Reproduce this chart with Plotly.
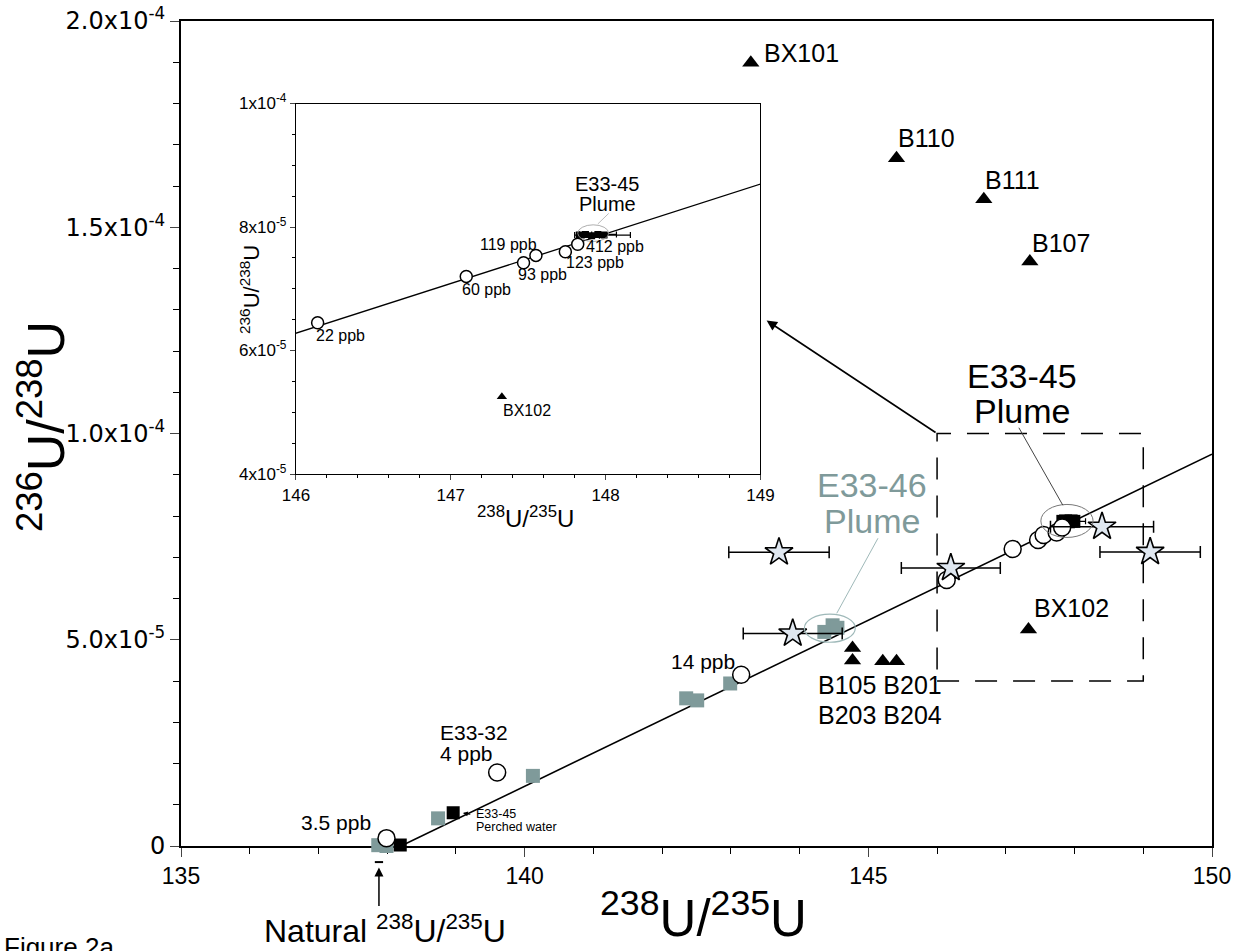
import plotly.graph_objects as go

# ---------------- data ----------------
natural_ratio = 137.88

mix_x = [138.2, 150.0]
mix_y = [0.0, 9.5e-5]

circ_x = [137.99, 139.60, 143.15, 146.14, 147.10, 147.47, 147.55, 147.74, 147.82]
circ_y = [1.9e-6, 1.78e-5, 4.15e-5, 6.45e-5, 7.20e-5, 7.42e-5, 7.54e-5, 7.60e-5, 7.72e-5]

gray_x = [137.87, 137.99, 138.74, 140.12, 142.35, 142.51, 142.99, 144.36, 144.48, 144.55]
gray_y = [2e-7, 0.0, 6.7e-6, 1.70e-5, 3.58e-5, 3.53e-5, 3.94e-5, 5.19e-5, 5.35e-5, 5.29e-5]
gray_err = [0, 0, 0, 0, 0, 0, 0, 0, 0, 0.06]

black_x = [138.19, 138.96, 147.83, 147.87, 147.91, 147.95, 147.99]
black_y = [2.4e-7, 8.06e-6, 7.87e-5, 7.88e-5, 7.86e-5, 7.88e-5, 7.87e-5]
black_err = [0, 0, 0.03, 0.04, 0.05, 0.12, 0.17]

tri_x = [143.29, 145.41, 146.68, 147.35, 147.33, 144.77, 144.77, 145.21, 145.41]
tri_y = [1.899e-4, 1.667e-4, 1.568e-4, 1.417e-4, 5.25e-5, 4.80e-5, 4.50e-5, 4.48e-5, 4.48e-5]

star_x = [143.70, 143.90, 146.20, 148.40, 149.10]
star_y = [7.12e-5, 5.15e-5, 6.74e-5, 7.74e-5, 7.13e-5]
star_err = [0.73, 0.72, 0.72, 0.75, 0.73]

main_xticks = [135, 140, 145, 150]
main_yticks = [0, 5e-5, 1e-4, 1.5e-4, 2e-4]
main_yticktext = ["0", "5.0x10<sup>-5</sup>", "1.0x10<sup>-4</sup>",
                  "1.5x10<sup>-4</sup>", "2.0x10<sup>-4</sup>"]

inset_xrange = [146, 149]
inset_yrange = [4e-5, 1e-4]
inset_xticks = [146, 147, 148, 149]
inset_yticks = [4e-5, 6e-5, 8e-5, 1e-4]
inset_yticktext = ["4x10<sup>-5</sup>", "6x10<sup>-5</sup>",
                   "8x10<sup>-5</sup>", "1x10<sup>-4</sup>"]

inset_labels = ["22 ppb", "60 ppb", "93 ppb", "119 ppb", "123 ppb", "412 ppb", "BX102"]
inset_label_x = [146.29, 147.23, 147.59, 147.37, 147.93, 148.06, 147.49]
inset_label_y = [6.24e-5, 6.99e-5, 7.23e-5, 7.72e-5, 7.42e-5, 7.68e-5, 5.03e-5]

# ---------------- styling ----------------
FONT = "Liberation Sans, Arial, sans-serif"
GRAY = "#7f9a9a"
STAR_FILL = "#dfe7f0"

fig = go.Figure()

def add_set(xa, ya, circ_size, sq_size, tri_size, star_size, lw):
    fig.add_trace(go.Scatter(x=mix_x, y=mix_y, mode="lines", xaxis=xa, yaxis=ya,
                             line=dict(color="black", width=lw), cliponaxis=True,
                             showlegend=False, hoverinfo="skip"))
    fig.add_trace(go.Scatter(x=gray_x, y=gray_y, mode="markers", xaxis=xa, yaxis=ya,
                             marker=dict(symbol="square", size=sq_size, color=GRAY),
                             error_x=dict(type="data", array=gray_err, color="black",
                                          thickness=1.2, width=3),
                             cliponaxis=(xa != "x"), showlegend=False))
    fig.add_trace(go.Scatter(x=black_x, y=black_y, mode="markers", xaxis=xa, yaxis=ya,
                             marker=dict(symbol="square", size=sq_size - 1, color="black"),
                             error_x=dict(type="data", array=black_err, color="black",
                                          thickness=1.2, width=3),
                             cliponaxis=(xa != "x"), showlegend=False))
    fig.add_trace(go.Scatter(x=circ_x, y=circ_y, mode="markers", xaxis=xa, yaxis=ya,
                             marker=dict(symbol="circle", size=circ_size, color="white",
                                         line=dict(color="black", width=1.5)),
                             cliponaxis=(xa != "x"), showlegend=False))
    fig.add_trace(go.Scatter(x=tri_x, y=tri_y, mode="markers", xaxis=xa, yaxis=ya,
                             marker=dict(symbol="triangle-up", size=tri_size, color="black"),
                             cliponaxis=(xa != "x"), showlegend=False))
    if star_size:
        fig.add_trace(go.Scatter(x=star_x, y=star_y, mode="markers", xaxis=xa, yaxis=ya,
                                 marker=dict(symbol="star", size=star_size, color=STAR_FILL,
                                             line=dict(color="black", width=1.6)),
                                 error_x=dict(type="data", array=star_err, color="black",
                                              thickness=1.5, width=6),
                                 cliponaxis=False, showlegend=False))

add_set("x", "y", 17, 14, 15, 21, 1.6)
add_set("x2", "y2", 12, 8, 9, 0, 1.3)

# ---------------- axes ----------------
fig.update_layout(
    width=1250, height=951,
    margin=dict(l=181, r=38, t=21, b=105),
    paper_bgcolor="white", plot_bgcolor="white",
    font=dict(family=FONT, color="black"),
    xaxis=dict(range=[135, 150], tickvals=main_xticks, ticks="outside", ticklen=9,
               tickwidth=1.3, showline=True, linewidth=1.6, linecolor="black", mirror=True,
               showgrid=False, zeroline=False, tickfont=dict(size=23, family=FONT),
               automargin=False,
               minor=dict(dtick=1, ticks="outside", ticklen=6, tickcolor="black",
                          showgrid=False),
               layer="below traces"),
    yaxis=dict(range=[0, 2e-4], tickvals=main_yticks, ticktext=main_yticktext,
               ticks="outside", ticklen=9, tickwidth=1.3, showline=True, linewidth=2,
               linecolor="black", mirror=True, showgrid=False, zeroline=False,
               tickfont=dict(size=24, family="DejaVu Sans, sans-serif"),
               automargin=False,
               minor=dict(dtick=1e-5, ticks="outside", ticklen=6, tickcolor="black",
                          showgrid=False),
               layer="below traces"),
    xaxis2=dict(domain=[0.1115, 0.5620], anchor="y2", range=inset_xrange,
                tickvals=inset_xticks, ticks="outside", ticklen=5, showline=True,
                linewidth=1.2, linecolor="black", mirror=True, showgrid=False,
                zeroline=False, tickfont=dict(size=17, family=FONT), automargin=False,
                minor=dict(dtick=0.2, ticks="outside", ticklen=3, tickcolor="black",
                           showgrid=False)),
    yaxis2=dict(domain=[0.4509, 0.9000], anchor="x2", range=inset_yrange,
                tickvals=inset_yticks, ticktext=inset_yticktext, ticks="outside",
                ticklen=5, showline=True, linewidth=1.2, linecolor="black", mirror=True,
                showgrid=False, zeroline=False, tickfont=dict(size=17, family=FONT),
                automargin=False,
                minor=dict(dtick=5e-6, ticks="outside", ticklen=3, tickcolor="black",
                           showgrid=False)),
)

# ---------------- shapes ----------------
shapes = []
# dashed box marking inset region
shapes.append(dict(type="rect", xref="x", yref="y", x0=inset_xrange[0], x1=inset_xrange[1],
                   y0=inset_yrange[0], y1=inset_yrange[1],
                   line=dict(color="black", width=1.5, dash="22px,16px")))
# ellipses
shapes.append(dict(type="circle", xref="x", yref="y", x0=144.44 - 0.37, x1=144.44 + 0.37,
                   y0=5.28e-5 - 3.4e-6, y1=5.28e-5 + 3.4e-6,
                   line=dict(color="#9fb9b9", width=1.2)))
shapes.append(dict(type="circle", xref="x", yref="y", x0=147.89 - 0.38, x1=147.89 + 0.38,
                   y0=7.88e-5 - 4.0e-6, y1=7.88e-5 + 4.0e-6,
                   line=dict(color="#777777", width=1.0)))
shapes.append(dict(type="circle", xref="x2", yref="y2", x0=147.92 - 0.10, x1=147.92 + 0.10,
                   y0=7.90e-5 - 1.35e-6, y1=7.90e-5 + 1.35e-6,
                   line=dict(color="#999999", width=0.8)))
# leader lines
shapes.append(dict(type="line", xref="x", yref="y", x0=147.19, y0=1.014e-4, x1=147.83, y1=8.26e-5,
                   line=dict(color="#444444", width=1)))
shapes.append(dict(type="line", xref="x", yref="y", x0=145.14, y0=7.46e-5, x1=144.54, y1=5.64e-5,
                   line=dict(color="#9fb9b9", width=1)))
shapes.append(dict(type="line", xref="x2", yref="y2", x0=147.95, y0=8.05e-5, x1=148.02, y1=8.22e-5,
                   line=dict(color="#aaaaaa", width=0.8)))
# small bar marking natural ratio below axis
shapes.append(dict(type="line", xref="x", yref="paper", x0=natural_ratio - 0.06,
                   x1=natural_ratio + 0.06, y0=-0.0195, y1=-0.0195,
                   line=dict(color="black", width=2)))
fig.update_layout(shapes=shapes)

# ---------------- annotations ----------------
ann = []
def txt(x, y, t, size=25, xanchor="left", color="black", xref="x", yref="y"):
    ann.append(dict(x=x, y=y, xref=xref, yref=yref, text=t, showarrow=False,
                    xanchor=xanchor, yanchor="middle",
                    font=dict(size=size, color=color, family=FONT)))

txt(143.45, 1.923e-4, "BX101")
txt(145.40, 1.716e-4, "B110")
txt(146.67, 1.615e-4, "B111")
txt(147.35, 1.463e-4, "B107")
txt(147.38, 5.77e-5, "BX102")
txt(145.17, 3.90e-5, "B105 B201", xanchor="center")
txt(145.17, 3.17e-5, "B203 B204", xanchor="center")
txt(143.09, 4.48e-5, "14 ppb", size=21, xanchor="right")
txt(138.74, 2.76e-5, "E33-32", size=21)
txt(138.74, 2.24e-5, "4 ppb", size=21)
txt(137.79, 5.8e-6, "3.5 ppb", size=21, xanchor="right")
txt(139.26, 7.8e-6, "E33-45", size=12.5)
txt(139.26, 4.7e-6, "Perched water", size=12.5)
txt(147.24, 1.140e-4, "E33-45", size=34, xanchor="center")
txt(147.24, 1.054e-4, "Plume", size=34, xanchor="center")
txt(145.05, 8.74e-5, "E33-46", size=34, xanchor="center", color=GRAY)
txt(145.05, 7.87e-5, "Plume", size=34, xanchor="center", color=GRAY)

for lab, lx, ly in zip(inset_labels, inset_label_x, inset_label_y):
    txt(lx, ly, lab, size=16, xanchor="center", xref="x2", yref="y2")
txt(148.01, 8.70e-5, "E33-45", size=20, xanchor="center", xref="x2", yref="y2")
txt(148.01, 8.38e-5, "Plume", size=20, xanchor="center", xref="x2", yref="y2")

# arrow from perched water label to black square
ann.append(dict(x=139.10, y=8.0e-6, xref="x", yref="y", ax=139.23, ay=7.6e-6,
                axref="x", ayref="y", text="", showarrow=True, arrowhead=2,
                arrowsize=1, arrowwidth=1, arrowcolor="black"))
# arrow from dashed box corner to inset
ann.append(dict(x=143.52, y=1.274e-4, xref="x", yref="y", ax=inset_xrange[0],
                ay=inset_yrange[1], axref="x", ayref="y", text="", showarrow=True,
                arrowhead=2, arrowsize=1.3, arrowwidth=1.6, arrowcolor="black"))
# natural ratio arrow
ann.append(dict(x=natural_ratio, y=-0.026, xref="x", yref="paper", ax=0, ay=40,
                text="", showarrow=True, arrowhead=2, arrowsize=1.2, arrowwidth=1.5,
                arrowcolor="black"))
ann.append(dict(x=(385 - 181) / 1031, y=-0.101, xref="paper", yref="paper",
                text="Natural <sup>238</sup>U/<sup>235</sup>U", showarrow=False,
                xanchor="center", yanchor="middle", font=dict(size=32, family=FONT)))

# axis titles
ann.append(dict(x=(703 - 181) / 1031, y=-0.084, xref="paper", yref="paper",
                text="<sup>238</sup>U/<sup>235</sup>U", showarrow=False,
                xanchor="center", yanchor="middle", font=dict(size=51, family=FONT)))
ann.append(dict(x=(42 - 181) / 1031, y=0.508, xref="paper", yref="paper",
                text="<sup>236</sup>U/<sup>238</sup>U", showarrow=False, textangle=-90,
                xanchor="center", yanchor="middle", font=dict(size=52, family=FONT)))
ann.append(dict(x=(525 - 181) / 1031, y=(846 - 517) / 825, xref="paper", yref="paper",
                text="<sup>238</sup>U/<sup>235</sup>U", showarrow=False,
                xanchor="center", yanchor="middle", font=dict(size=24, family=FONT)))
ann.append(dict(x=(250 - 181) / 1031, y=(846 - 290) / 825, xref="paper", yref="paper",
                text="<sup>236</sup>U/<sup>238</sup>U", showarrow=False, textangle=-90,
                xanchor="center", yanchor="middle", font=dict(size=22, family=FONT)))
ann.append(dict(x=(2 - 181) / 1031, y=(846 - 930) / 825, xref="paper", yref="paper",
                text="Figure 2a", showarrow=False, xanchor="left", yanchor="top",
                font=dict(size=26, family=FONT)))

fig.update_layout(annotations=ann)
fig.write_html("out.html")
